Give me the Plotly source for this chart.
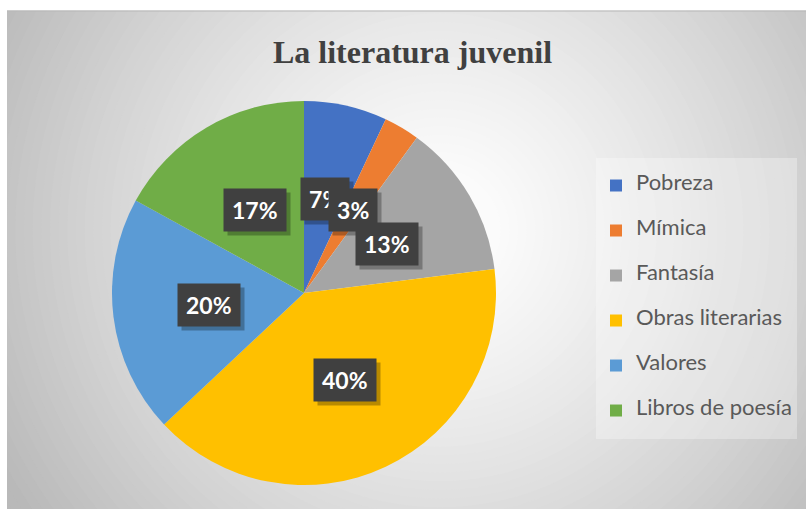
import math
import plotly.graph_objects as go

# ---- data ----
categories = ["Pobreza", "Mímica", "Fantasía", "Obras literarias", "Valores", "Libros de poesía"]
values = [7, 3, 13, 40, 20, 17]
colors = ["#4472C4", "#ED7D31", "#A5A5A5", "#FFC000", "#5B9BD5", "#70AD47"]
title_text = "La literatura juvenil"

W, H = 806, 509
CX, CY, R = 304, 293, 192  # pie centre / radius in px

fig = go.Figure()

legend_labels = [
    "\u00a0<br><span style='font-size:22px'>%s</span><br>\u00a0" % c for c in categories
]

fig.add_trace(go.Pie(
    labels=legend_labels,
    values=values,
    sort=False,
    direction="clockwise",
    rotation=0,
    marker=dict(colors=colors, line=dict(width=0)),
    textinfo="none",
    hoverinfo="skip",
    domain=dict(x=[(CX - R) / W, (CX + R) / W], y=[1 - (CY + R) / H, 1 - (CY - R) / H]),
))

# ---- background radial gradient (shapes) ----
shapes = []
gx, gy = 440, 230
rmax = 520
steps = 60
for i in range(steps, 0, -1):
    r = rmax * i / steps
    t = r / 470.0
    c = int(round(255 - 64 * min(t, 1.1) ** 1.3))
    c = max(min(c, 255), 185)
    shapes.append(dict(type="circle", xref="paper", yref="paper", layer="below",
                       x0=(gx - r) / W, x1=(gx + r) / W,
                       y0=1 - (gy + r) / H, y1=1 - (gy - r) / H,
                       fillcolor="rgb(%d,%d,%d)" % (c, c, c), line=dict(width=0)))
# white margins top / left
shapes.append(dict(type="rect", xref="paper", yref="paper", layer="below",
                   x0=0, x1=1, y0=1 - 10.5 / H, y1=1, fillcolor="white", line=dict(width=0)))
shapes.append(dict(type="rect", xref="paper", yref="paper", layer="below",
                   x0=0, x1=7 / W, y0=0, y1=1, fillcolor="white", line=dict(width=0)))
shapes.append(dict(type="line", xref="paper", yref="paper", layer="below",
                   x0=7 / W, x1=1, y0=1 - 11 / H, y1=1 - 11 / H, line=dict(color="#b8b8b8", width=1)))

# ---- data labels (boxes) computed from values ----
annotations = []
total = float(sum(values))
cum = 0.0
for v in values:
    mid = (cum + v / 2.0) / total * 2 * math.pi
    cum += v
    px = CX + 0.5 * R * math.sin(mid)
    py = CY - 0.5 * R * math.cos(mid)
    ax, ay = px / W, 1 - py / H
    txt = "%d%%" % v
    bw = len(str(v)) * 13.3 + 21
    annotations.append(dict(x=ax, y=ay, xref="paper", yref="paper", text=" ", showarrow=False,
                            xanchor="center", yanchor="middle", width=bw, height=28,
                            xshift=4, yshift=-4, bgcolor="rgba(0,0,0,0.28)", borderpad=7,
                            font=dict(family="Lato", size=23, color="rgba(0,0,0,0)")))
    annotations.append(dict(x=ax, y=ay, xref="paper", yref="paper", text=txt, showarrow=False,
                            xanchor="center", yanchor="middle", width=bw, height=28,
                            bgcolor="#404040", borderpad=7,
                            font=dict(family="Lato", size=23, color="white", weight="bold")))

fig.update_layout(
    width=W, height=H,
    margin=dict(l=0, r=0, t=0, b=0),
    paper_bgcolor="#bdbdbd",
    title=dict(text=title_text, x=412.5 / W, xanchor="center", y=1 - 52 / H, yanchor="middle",
               yref="container",
               font=dict(family="Liberation Serif", size=32, color="#404040", weight="bold")),
    legend=dict(x=596 / W, xanchor="left", y=1 - 298.5 / H, yanchor="middle",
                font=dict(family="Lato", size=10.77, color="#595959"),
                bgcolor="rgba(255,255,255,0.3)", borderwidth=0),
    shapes=shapes,
    annotations=annotations,
    showlegend=True,
)

fig.write_html("out.html", config={"displayModeBar": False},
               post_script="document.body.style.margin='0';document.body.style.overflow='hidden';")
